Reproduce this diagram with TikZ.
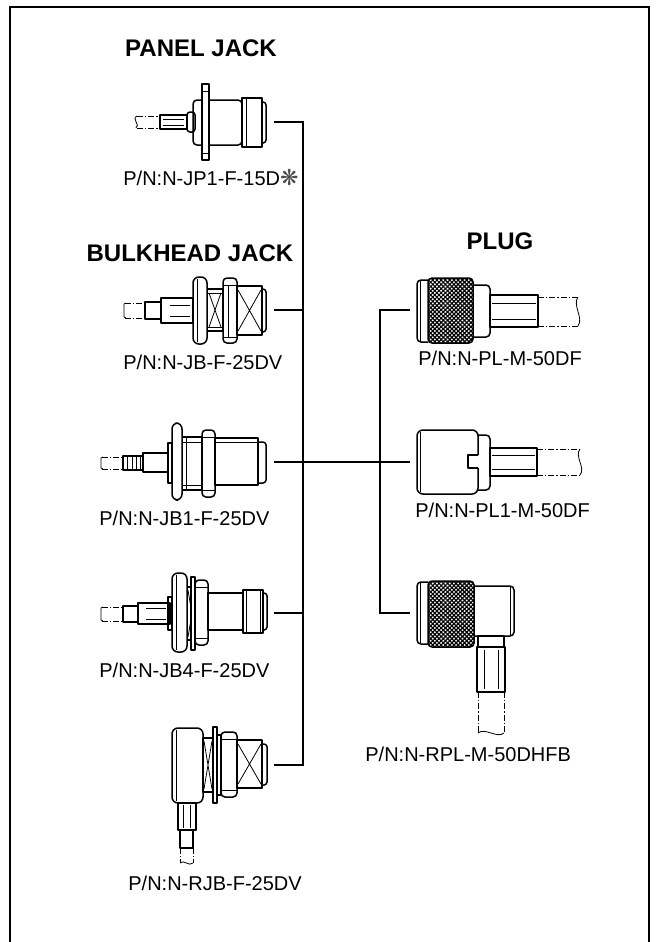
\documentclass[tikz,border=0pt]{standalone}
\usepackage{fontspec}
\setmainfont{Liberation Sans}
\newfontfamily\symfont{DejaVu Sans}
\usetikzlibrary{patterns.meta}
\tikzset{
	part/.style={line width=0.75pt, line join=round},
	fine/.style={line width=0.4pt},
	cable/.style={line width=0.5pt, dash pattern=on 3pt off 1pt on 0.7pt off 1pt},
	link/.style={line width=0.6pt},
	knurl/.style={part, pattern={Hatch[angle=45,distance=1.5pt,line width=0.6pt]}},
	title/.style={font=\bfseries\fontsize{12}{14}\selectfont, inner sep=0pt},
	pn/.style={font=\fontsize{10}{12}\selectfont, inner sep=0pt, anchor=west}
}

\begin{document}
\begin{tikzpicture}[x=0.5pt, y=-0.5pt]
			%%%%% FRAME %%%%%
			\useasboundingbox (0,0) rectangle (655,942);
			\draw[line width=1.2pt] (10,942) -- (10,7) -- (649,7) -- (649,942);
			
			\node[title] (panel) at (201,48) {PANEL JACK};
			\node[title] (bulkhead) at (190,253) {BULKHEAD JACK};
			\node[title] (plug) at (500,241) {PLUG};
			
			%%%%% PANEL JACK %%%%%
			\draw[cable] (137,116) -- (160,116) (137,128) -- (160,128);
			\draw[fine] (137,116) .. controls (131,119) and (141,125) .. (136,128);
			\draw[part] (160,115) rectangle (187,129);
			\draw[fine] (163,119) -- (184,119) (163,125) -- (184,125);
			\draw[part, rounded corners=1.5] (187,112) rectangle (195,132);
			\draw[part, rounded corners=2] (193,100) rectangle (242,145);
			\draw[part, fill=white] (202,84) rectangle (209,160);
			\draw[fine] (202,91) -- (209,91) (202,153) -- (209,153);
			\draw[part] (242,98) rectangle (262,147);
			\draw[fine] (246,98) -- (246,147);
			\draw[part, rounded corners=1.5] (262,102) -- (266,102) -- (266,143) -- (262,143);
			\coordinate (jp1) at (274,122);
			\node[pn] (pnjp1) at (123,177) {P/N:N-JP1-F-15D{\symfont\fontsize{11}{11}\selectfont\color{black!70}❋}};
			
			%%%%% BULKHEAD JACK %%%%%
			\draw[cable] (125,303) -- (145,303) (125,318) -- (145,318);
			\draw[fine] (126,303) -- (124,304) -- (124,317) -- (126,318);
			\draw[part] (145,302) rectangle (161,319);
			\draw[part] (161,298) rectangle (193,323);
			\draw[fine] (170,305) -- (190,305) (170,316) -- (190,316);
			\draw[part] (207,289) rectangle (223,331);
			\draw[fine] (207,293) -- (223,293) (207,327) -- (223,327);
			\draw[fine] (209,293) -- (221,327) (209,327) -- (221,293);
			\draw[part, fill=white, rounded corners=3] (193,277) rectangle (207,344);
			\draw[fine] (197,279) -- (197,342);
			\draw[part, fill=white, rounded corners=2] (223,278) rectangle (237,343);
			\draw[fine] (223,285) -- (237,285) (223,337) -- (237,337) (228,285) -- (228,337);
			\draw[part] (237,286) rectangle (262,335);
			\draw[fine] (238,290) -- (261,331) (238,331) -- (261,290);
			\draw[part, rounded corners=1.5] (262,289) -- (266,289) -- (266,332) -- (262,332);
			\coordinate (jb) at (274,310);
			\node[pn] (pnjb) at (123,362) {P/N:N-JB-F-25DV};
			
			\draw[cable] (102,457) -- (123,457) (102,469) -- (123,469);
			\draw[fine] (103,457) -- (101,458) -- (101,468) -- (103,469);
			\draw[part, pattern={Lines[angle=90,distance=2.2pt,line width=0.35pt]}] (123,456) rectangle (143,470);
			\draw[part] (143,453) rectangle (168,472);
			\draw[part] (168,443) rectangle (172,483);
			\draw[part] (182,437) rectangle (202,490);
			\draw[fine] (182,442) -- (202,442) (182,485) -- (202,485) (186,437) -- (186,490);
			\draw[part, fill=white, rounded corners=3] (172,423) rectangle (182,500);
			\draw[part, fill=white, rounded corners=2] (202,430) rectangle (215,497);
			\draw[fine] (202,437) -- (215,437) (202,490) -- (215,490);
			\draw[part] (215,438) rectangle (258,485);
			\draw[fine] (215,442) -- (258,442);
			\draw[part, rounded corners=1.5] (258,442) -- (266,442) -- (266,483) -- (258,483);
			\coordinate (jbone) at (274,462);
			\node[pn] (pnjbone) at (99,518) {P/N:N-JB1-F-25DV};
			
			\draw[cable] (102,607) -- (123,607) (102,621) -- (123,621);
			\draw[fine] (103,607) -- (101,608) -- (101,620) -- (103,621);
			\draw[part] (123,606) rectangle (138,622);
			\draw[part] (138,603) rectangle (170,624);
			\draw[fine] (146,608) -- (166,608) (146,619) -- (166,619);
			\draw[part] (168,597) rectangle (172,630);
			\draw[part] (187,587) rectangle (197,640);
			\draw[fine] (188,590) -- (196,637) (188,637) -- (196,590);
			\draw[part, fill=white, rounded corners=3] (172,573) rectangle (187,652);
			\draw[fine] (176,575) -- (176,650);
			\draw[part, fill=white] (191,577) rectangle (195,650);
			\draw[part, fill=white, rounded corners=2] (195,580) rectangle (208,645);
			\draw[fine] (195,587) -- (208,587) (195,638) -- (208,638);
			\draw[part] (208,593) rectangle (243,630);
			\draw[part] (243,590) rectangle (263,633);
			\draw[fine] (246,590) -- (246,633) (260,590) -- (260,633);
			\draw[part, rounded corners=1.5] (263,593) -- (267,593) -- (267,630) -- (263,630);
			\coordinate (jbfour) at (274,613);
			\node[pn] (pnjbfour) at (99,670) {P/N:N-JB4-F-25DV};
			
			\draw[part] (203,738) rectangle (213,792);
			\draw[fine] (204,741) -- (212,789) (204,789) -- (212,741);
			\draw[part, rounded corners=3] (172,728) rectangle (203,803);
			\draw[fine] (176,730) -- (176,801);
			\draw[part, fill=white] (213,727) rectangle (217,803);
			\draw[part] (217,735) rectangle (221,795);
			\draw[part, fill=white, rounded corners=2] (221,732) rectangle (237,797);
			\draw[fine] (221,739) -- (237,739) (221,790) -- (237,790);
			\draw[part] (237,740) rectangle (262,788);
			\draw[fine] (238,744) -- (261,784) (238,784) -- (261,744);
			\draw[part, rounded corners=1.5] (262,744) -- (267,744) -- (267,785) -- (262,785);
			\draw[part] (178,803) rectangle (196,830);
			\draw[fine] (183,805) -- (183,828) (190,805) -- (190,828);
			\draw[part] (180,830) rectangle (193,848);
			\draw[cable] (180,848) -- (180,863) (193,848) -- (193,863);
			\draw[fine] (180,863) .. controls (184,859) and (189,867) .. (193,863);
			\coordinate (rjb) at (274,765);
			\node[pn] (pnrjb) at (128,883) {P/N:N-RJB-F-25DV};
			
			%%%%% PLUG %%%%%
			\draw[part, rounded corners=2] (428,280) -- (417,280) -- (417,342) -- (428,342);
			\draw[fine] (420,281) -- (420,341);
			\draw[knurl, rounded corners=2] (428,278) rectangle (473,343);
			\draw[part, rounded corners=2] (473,285) -- (490,285) -- (490,337) -- (473,337);
			\draw[part] (490,295) rectangle (538,327);
			\draw[fine] (492,303) -- (536,303) (492,319) -- (536,319);
			\draw[cable] (538,297) -- (578,297) (538,326) -- (578,326);
			\draw[fine] (578,297) .. controls (572,305) and (584,318) .. (578,326);
			\coordinate (pl) at (410,310);
			\node[pn] (pnpl) at (418,358) {P/N:N-PL-M-50DF};
			
			\draw[part] (478,455) -- (468,455) -- (468,468) -- (478,468);
			\draw[part, rounded corners=3] (478,455) -- (478,430) -- (417,430) -- (417,494) -- (478,494) -- (478,468);
			\draw[fine] (420,432) -- (420,492);
			\draw[part, rounded corners=2] (478,435) -- (490,435) -- (490,490) -- (478,490);
			\draw[part] (490,448) rectangle (537,476);
			\draw[fine] (492,455) -- (535,455) (492,469) -- (535,469);
			\draw[cable] (537,449) -- (580,449) (537,475) -- (580,475);
			\draw[fine] (580,449) .. controls (574,456) and (586,468) .. (580,475);
			\coordinate (plone) at (410,462);
			\node[pn] (pnplone) at (415,510) {P/N:N-PL1-M-50DF};
			
			\draw[part, rounded corners=2] (428,582) -- (417,582) -- (417,644) -- (428,644);
			\draw[fine] (420,583) -- (420,643);
			\draw[knurl, rounded corners=2] (428,581) rectangle (474,647);
			\draw[part, rounded corners=2] (474,586) -- (514,586) -- (514,636) -- (474,636);
			\draw[fine] (510,587) -- (510,635);
			\draw[part] (478,636) rectangle (504,647);
			\draw[part] (477,647) rectangle (505,692);
			\draw[fine] (484,650) -- (484,689) (498,650) -- (498,689);
			\draw[cable] (478,692) -- (478,733) (504,692) -- (504,733);
			\draw[fine] (478,733) .. controls (485,727) and (497,739) .. (504,733);
			\coordinate (rpl) at (410,613);
			\node[pn] (pnrpl) at (365,754) {P/N:N-RPL-M-50DHFB};
			
			%%%%% LINKS %%%%%
			\coordinate (ltop) at (303,122);
			\coordinate (lbot) at (303,765);
			\coordinate (rtop) at (380,310);
			\coordinate (rbot) at (380,613);
			\draw[link] (jp1) -- (ltop) -- (lbot) -- (rjb);
			\draw[link] (jb) -- (jb -| ltop);
			\draw[link] (jbfour) -- (jbfour -| ltop);
			\draw[link] (jbone) -- (plone);
			\draw[link] (pl) -- (rtop) -- (rbot) -- (rpl);
			
		\end{tikzpicture}
\end{document}
